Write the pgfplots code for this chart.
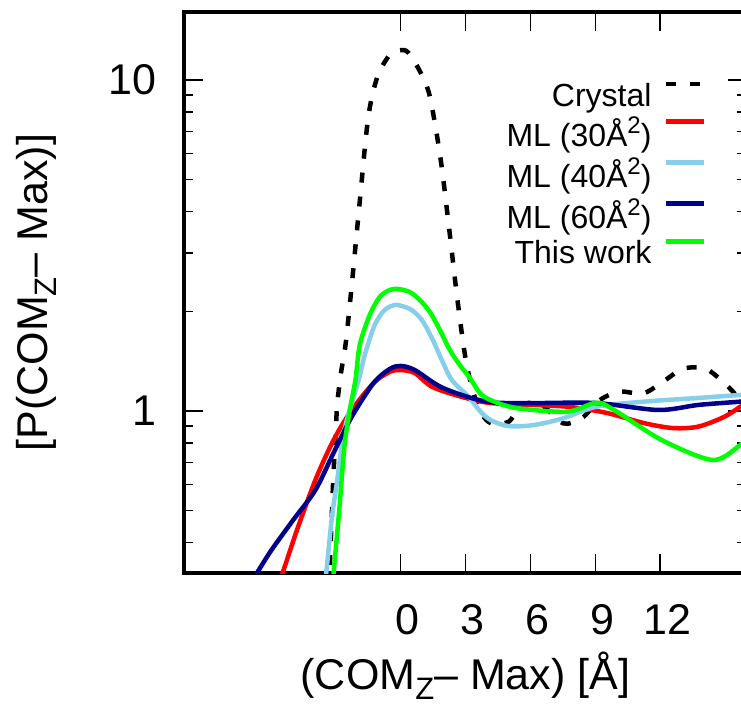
\documentclass[border=0pt]{standalone}
\usepackage{fontspec}
\setmainfont{Liberation Sans}
\usepackage{pgfplots}
\pgfplotsset{compat=1.18}
\definecolor{mlred}{RGB}{255,0,0}
\definecolor{mlsky}{RGB}{135,206,235}
\definecolor{mlnavy}{RGB}{0,0,139}
\definecolor{mlgreen}{RGB}{0,255,0}
\newcommand{\subZ}{\raisebox{-0.22em}{\fontsize{31}{31}\selectfont Z}}
\newcommand{\supTwo}{\raisebox{0.42em}{\fontsize{24}{24}\selectfont 2}}
\begin{document}
\begin{tikzpicture}
\path[use as bounding box] (-184pt,-133pt) rectangle (557pt,573pt);
\clip (-184pt,-133pt) rectangle (557pt,573pt);
\begin{axis}[
  at={(0pt,0pt)}, anchor=south west,
  scale only axis, width=562.8pt, height=561pt,
  xmin=-10, xmax=16,
  ymode=log, ymin=0.324, ymax=16.05,
  xtick={0,3,6,9,12},
  ytick={1,10}, yticklabels={1,10},
  minor ytick={0.4,0.5,0.6,0.7,0.8,0.9,2,3,4,5,6,7,8,9},
  /pgf/number format/assume math mode=true,
  tick align=inside,
  major tick length=19pt, minor tick length=9.5pt,
  tick style={line width=1.5pt, black},
  axis line style={line width=4pt},
  ticklabel style={font=\fontsize{43}{50}\selectfont},
  xticklabel style={anchor=base, inner sep=0pt, yshift=-61pt, xshift=7pt},
  yticklabel style={anchor=east, inner sep=0pt, xshift=-27pt},
  xlabel={(COM\subZ– Max) [Å]},
  ylabel={[P(COM\subZ– Max)]},
  label style={font=\fontsize{43}{50}\selectfont},
  xlabel style={at={(axis description cs:0.5,-0.2085)}, anchor=base, inner sep=0pt},
  ylabel style={at={(axis description cs:-0.2434,0.5)}, anchor=base, rotate=0, inner sep=0pt},
  legend plot pos=right,
  legend cell align=right,
  legend image code/.code={\draw[#1] (0pt,11pt) -- (38pt,11pt);},
  legend style={draw=none, fill=none, inner sep=0pt, outer sep=0pt,
    at={(axis description cs:0.9275,0.7121)}, anchor=east,
    font=\fontsize{32}{38}\selectfont,
    nodes={inner sep=0pt},
    row sep=9.2pt, column sep=12pt},
  every axis plot/.append style={line width=4.5pt},
]
\addplot[black, dash pattern=on 10pt off 14pt, smooth, tension=0.5] coordinates {
(-3.35,0.29) (-3.27,0.339) (-3.18,0.469) (-3.1,0.633) (-3.0,0.84) (-2.92,1.05) (-2.75,1.3) (-2.53,1.6) (-2.25,2.4) (-1.88,4.3) (-1.49,7.7) (-1.07,10.2) (-0.5,11.9) (0.0,12.3) (0.36,12.1) (0.94,10.5) (1.36,8.9) (1.85,5.8) (2.24,3.6) (2.62,2.2) (3.0,1.45) (3.38,1.13) (3.75,0.98) (4.2,0.918) (5.0,0.928) (5.59,1.043) (6.51,1.043) (7.51,0.918) (8.37,0.95) (9.21,1.079) (10.13,1.144) (11.23,1.131) (12.24,1.241) (13.06,1.343) (14.08,1.343) (14.91,1.224) (15.61,1.102) (16,1.06)
};
\addlegendentry{Crystal}
\addplot[mlred, smooth, tension=0.5] coordinates {
(-5.8,0.29) (-5.45,0.324) (-4.78,0.437) (-3.93,0.619) (-3.09,0.817) (-2.25,1.007) (-1.24,1.215) (-0.5,1.312) (0.0,1.33) (0.66,1.302) (1.45,1.184) (2.79,1.105) (4.16,1.057) (6.17,1.043) (7.86,1.028) (9.55,0.986) (11.23,0.92) (12.58,0.888) (13.76,0.897) (14.94,0.959) (15.7,1.03) (16,1.06)
};
\addlegendentry{ML (30Å\supTwo)}
\addplot[mlsky, smooth, tension=0.5] coordinates {
(-3.55,0.29) (-3.43,0.324) (-3.18,0.469) (-2.92,0.619) (-2.59,0.876) (-1.93,1.241) (-1.65,1.476) (-1.19,1.819) (-0.73,2.019) (-0.26,2.091) (0.06,2.076) (0.52,2.019) (0.99,1.884) (1.45,1.662) (1.91,1.426) (2.37,1.241) (3.14,1.105) (3.67,1.0) (4.16,0.939) (5.0,0.90) (6.17,0.907) (7.51,0.95) (9.04,1.03) (11.23,1.067) (13.76,1.095) (15.7,1.118) (16,1.12)
};
\addlegendentry{ML (40Å\supTwo)}
\addplot[mlnavy, smooth, tension=0.5] coordinates {
(-7.1,0.29) (-6.63,0.324) (-5.96,0.38) (-4.95,0.469) (-3.93,0.577) (-3.09,0.747) (-2.25,0.961) (-1.24,1.215) (-0.5,1.339) (0.0,1.368) (0.66,1.33) (1.96,1.174) (3.98,1.067) (6.17,1.057) (9.04,1.057) (11.91,1.007) (13.76,1.043) (15.7,1.067) (16,1.07)
};
\addlegendentry{ML (60Å\supTwo)}
\addplot[mlgreen, smooth, tension=0.5] coordinates {
(-3.15,0.29) (-3.09,0.324) (-2.84,0.492) (-2.59,0.78) (-2.35,1.0) (-2.08,1.241) (-1.88,1.583) (-1.42,1.95) (-0.96,2.21) (-0.5,2.32) (-0.12,2.337) (0.43,2.288) (0.89,2.165) (1.36,1.991) (1.82,1.757) (2.28,1.529) (2.74,1.377) (3.21,1.258) (3.67,1.133) (4.16,1.079) (5.34,1.021) (7.7,0.995) (9.04,1.059) (9.87,1.007) (12.07,0.817) (14.43,0.711) (15.7,0.79) (16,0.82)
};
\addlegendentry{This work}
\end{axis}
\end{tikzpicture}
\end{document}
